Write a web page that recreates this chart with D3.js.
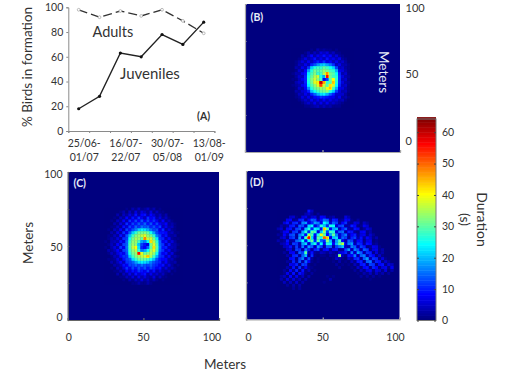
<!DOCTYPE html>
<html>
<head>
<meta charset="utf-8">
<script src="https://cdn.jsdelivr.net/npm/d3@7"></script>
<style>
body{margin:0;background:#fff;}
text{font-family:Lato,"Open Sans",sans-serif;fill:#333;}
</style>
</head>
<body>
<script>
// panel A
const periods=[0,1,2,3,4,5,6];
const juveniles=[18,28,63,60,78,70,88];
const adults=[98,92,97,93,98,89,79];
const dateTop=["25/06-","16/07-","30/07-","13/08-"];
const dateBot=["01/07","22/07","05/08","01/09"];
const datePeriod=[0,2,4,6];
const yTicksA=[0,20,40,60,80,100];

// colorbar
const barTicks=[0,10,20,30,40,50,60];
const jetValues=[0,8,24,40,56,64];
const jetColors=["#00007f","#0000ff","#00ffff","#ffff00","#ff0000","#7f0000"];

// heatmaps: seconds per 2m cell, rows from the top, only the part with birds
const startB={col:15,row:15};
const heatB=[
[0,0,0,0,0,0,1,0,3,1,2,1,1,0,1,0,0,0,0,0],
[0,0,0,0,1,3,1,4,2,6,4,6,2,4,1,1,0,0,0,0],
[0,0,0,3,1,4,8,3,7,5,9,5,8,3,6,2,1,0,0,0],
[0,0,1,3,6,3,5,9,4,7,4,9,5,7,4,7,2,1,0,0],
[0,1,3,6,3,7,4,7,10,7,11,6,8,4,7,3,5,2,0,0],
[0,1,4,3,7,4,10,13,17,20,21,18,15,11,4,7,3,3,1,0],
[0,3,2,7,4,11,21,26,28,27,30,28,25,21,12,4,5,2,1,0],
[0,1,5,3,8,18,26,31,29,30,33,31,28,27,19,7,6,3,1,0],
[1,3,3,7,9,23,28,32,27,28,35,47,31,29,24,10,3,5,1,0],
[0,2,5,4,10,25,30,35,37,25,18,56,31,28,26,11,6,3,2,0],
[1,1,4,7,10,26,32,37,33,28,7,12,31,40,27,11,4,5,1,0],
[0,3,5,4,10,25,31,38,41,60,46,27,29,44,26,11,6,3,2,0],
[1,2,3,7,9,23,29,33,38,52,37,29,42,37,24,10,4,5,1,0],
[0,1,5,3,8,17,26,30,32,34,33,39,44,29,19,7,6,3,1,0],
[0,3,2,5,6,10,20,25,28,30,31,33,27,21,12,6,3,4,1,0],
[0,1,4,3,7,4,10,14,19,22,23,19,14,10,5,5,5,2,0,0],
[0,1,2,6,3,7,4,8,9,11,10,9,7,7,4,7,2,3,1,0],
[0,0,1,3,5,3,7,4,7,4,8,4,7,4,5,3,4,1,0,0],
[0,0,0,1,3,5,3,7,3,7,3,7,3,5,3,2,1,0,0,0],
[0,0,0,0,1,1,2,3,4,2,4,2,3,1,1,1,0,0,0,0]
];
const startC={col:12,row:12};
const heatC=[
[0,0,0,0,0,0,0,1,0,3,1,4,1,2,4,1,3,0,1,0,0,0,0,0,0,0],
[0,0,0,0,0,1,3,0,4,1,6,2,6,4,2,6,1,4,1,1,0,0,0,0,0,0],
[0,0,0,0,3,0,4,2,6,3,9,3,8,9,3,8,5,2,4,1,3,0,0,0,0,0],
[0,0,0,1,0,4,2,8,3,9,5,11,7,4,11,7,9,3,6,2,4,1,0,0,0,0],
[0,0,1,0,4,2,8,3,11,7,12,8,13,8,12,8,11,7,3,8,2,4,1,0,0,0],
[0,0,0,3,1,6,3,11,6,12,9,13,10,14,9,13,8,12,7,5,8,2,3,1,0,0],
[0,0,1,1,4,2,9,5,12,9,14,11,15,13,14,10,13,9,12,4,7,3,4,1,0,0],
[0,1,0,4,2,8,3,12,9,13,16,21,23,22,19,15,12,13,6,11,3,6,2,1,0,0],
[0,0,3,1,6,3,11,7,14,21,27,31,31,32,30,25,18,12,9,9,8,3,4,1,1,0],
[0,1,1,4,2,9,5,13,20,28,32,34,36,38,33,31,27,16,12,6,9,3,2,3,0,0],
[0,1,3,2,6,3,11,12,25,31,35,34,30,48,36,37,31,23,11,10,4,8,2,1,1,0],
[1,0,3,4,3,9,6,14,27,33,34,28,18,16,24,42,35,27,14,7,9,3,6,2,0,0],
[0,1,4,2,8,4,12,14,29,34,33,20,12,9,6,32,38,29,14,11,4,9,3,3,1,0],
[1,0,3,6,3,11,7,15,29,36,40,22,10,8,14,30,42,30,15,9,10,4,4,3,0,0],
[0,3,2,4,8,4,12,14,28,33,36,26,15,18,24,34,38,29,14,11,5,8,2,3,1,0],
[0,1,4,2,6,9,7,13,26,31,33,56,38,30,32,36,33,25,12,7,9,3,6,1,0,0],
[0,0,1,4,3,8,11,11,21,28,32,34,36,38,44,34,28,19,11,10,4,8,2,3,1,0],
[0,1,1,2,6,3,9,12,14,22,27,30,31,30,28,25,20,13,9,8,8,3,4,1,0,0],
[0,0,3,1,4,8,4,11,12,14,18,22,23,22,20,16,13,11,10,4,8,3,2,3,0,0],
[0,0,0,3,2,4,9,7,12,12,14,12,15,13,12,14,11,10,7,9,3,6,2,0,1,0],
[0,0,1,0,4,2,6,11,7,12,9,13,10,13,9,12,10,7,9,3,6,2,3,1,0,0],
[0,0,0,1,1,4,2,8,5,9,7,11,9,7,11,5,9,3,6,3,2,4,0,1,0,0],
[0,0,0,0,3,0,4,2,7,3,9,5,7,9,3,7,3,5,2,4,1,0,1,0,0,0],
[0,0,0,0,0,1,1,4,2,6,2,7,3,6,3,2,6,1,4,1,1,0,0,0,0,0],
[0,0,0,0,0,0,1,0,3,1,4,2,6,2,4,1,3,1,0,1,0,0,0,0,0,0],
[0,0,0,0,0,0,0,0,0,1,1,3,1,1,3,1,0,0,0,0,0,0,0,0,0,0]
];
const startD={col:10,row:13};
const heatD=[
[0,0,0,0,0,0,0,0,0,0,9,4,0,0,0,0,0,0,0,0,0,0,0,0,0,0,0,0,0,0,0,0,0,0,0,0,0,0],
[0,0,0,0,0,0,0,0,0,3,5,2,0,2,0,0,0,0,0,0,0,0,0,0,0,0,0,0,0,0,0,0,0,0,0,0,0,0],
[0,0,0,0,4,5,1,0,6,7,2,5,6,1,8,7,1,2,3,0,0,0,6,3,0,0,0,0,0,0,0,0,0,0,0,0,0,0],
[0,0,0,7,8,1,2,10,11,2,8,14,13,3,9,15,14,3,10,9,1,2,8,7,1,0,2,0,0,0,0,0,0,0,0,0,0,0],
[0,0,6,9,2,10,11,3,16,18,5,10,18,16,7,24,20,6,14,12,2,8,11,2,1,6,5,0,4,2,0,0,0,0,0,0,0,0],
[0,3,1,2,9,10,2,14,13,4,22,24,6,12,26,20,10,26,24,5,12,13,2,3,10,8,1,1,7,5,0,0,0,0,0,0,0,0],
[3,5,0,8,9,2,12,13,4,20,26,10,24,22,8,44,30,8,18,20,3,10,14,3,2,9,8,0,2,6,4,0,0,0,0,0,0,0],
[0,2,7,8,1,11,12,3,18,27,10,30,28,6,20,34,12,28,26,6,14,15,2,10,9,2,1,7,8,1,3,0,0,0,0,0,0,0],
[2,1,8,3,12,13,2,16,20,8,36,28,8,26,40,30,8,18,30,16,5,12,16,3,8,10,2,6,7,1,5,2,0,0,0,0,0,0],
[0,4,6,1,10,12,2,18,6,30,56,22,6,30,24,50,44,6,20,22,6,14,12,2,10,12,3,9,2,8,5,1,3,0,0,0,0,0],
[3,1,2,9,2,3,14,16,24,8,24,30,10,30,14,10,32,20,4,18,28,8,3,14,12,2,8,9,1,6,7,0,1,0,0,0,0,0],
[0,3,4,8,1,12,11,3,18,22,4,20,26,8,24,8,26,24,8,20,30,36,6,16,18,3,11,10,2,9,8,1,2,0,0,0,0,0],
[0,0,4,5,9,2,12,3,16,4,18,14,2,18,12,2,14,14,2,12,16,20,4,3,16,14,3,12,10,1,2,7,6,1,0,0,0,0],
[0,0,0,5,6,1,12,11,2,16,10,2,10,12,1,8,9,2,8,9,1,2,12,18,3,16,13,2,14,12,1,6,7,1,3,0,0,0],
[0,0,2,0,7,8,1,14,12,30,3,9,2,1,4,3,1,4,2,1,6,7,10,2,16,3,18,14,2,11,10,1,6,1,3,0,0,0],
[0,0,0,3,1,10,11,2,14,20,1,11,1,0,1,1,0,2,1,3,34,3,1,9,8,16,2,14,16,3,10,8,1,5,1,0,0,0],
[0,0,0,0,8,9,1,12,16,3,13,2,0,1,0,0,1,0,1,5,3,1,0,5,2,10,11,1,14,18,3,11,10,1,6,1,0,0],
[0,0,0,2,1,10,2,13,2,14,8,1,0,1,0,0,0,0,1,0,3,0,1,0,4,1,9,10,1,14,15,2,10,9,1,5,2,0],
[0,0,0,0,7,6,10,1,12,11,1,0,1,0,0,0,0,0,0,2,0,1,0,1,0,4,1,9,10,1,12,11,1,8,9,1,6,4],
[0,0,0,3,1,9,1,11,2,8,2,1,0,0,0,0,0,0,0,0,2,0,0,0,1,0,5,1,8,9,1,10,8,1,6,7,1,7],
[0,0,2,0,8,2,10,1,9,1,4,0,1,0,0,0,0,0,0,0,0,0,0,0,0,2,0,4,1,6,7,1,6,5,1,6,0,3],
[0,0,1,7,1,9,0,9,6,1,0,2,0,0,0,0,0,0,0,0,0,0,0,0,0,0,1,0,3,1,4,0,4,1,3,0,2,0],
[0,2,4,0,8,1,7,1,4,0,3,0,0,0,0,0,1,0,1,0,0,0,0,0,0,0,0,2,0,2,0,2,0,1,0,0,0,0],
[0,3,0,6,1,6,1,4,0,3,0,0,0,0,0,0,0,3,0,0,0,0,0,0,0,0,0,0,0,0,1,0,0,0,0,0,0,0],
[0,0,4,0,4,0,5,0,3,0,0,0,0,0,0,1,0,0,0,0,0,0,0,0,0,0,0,0,0,0,0,0,0,0,0,0,0,0],
[0,0,0,2,0,3,0,3,0,0,0,0,0,0,0,0,0,0,0,0,0,0,0,0,0,0,0,0,0,0,0,0,0,0,0,0,0,0],
[0,0,0,0,0,2,0,2,0,0,0,0,0,0,0,0,0,0,0,0,0,0,0,0,0,0,0,0,0,0,0,0,0,0,0,0,0,0]
];
const meterTicks=[0,50,100];

const svg=d3.select("body").append("svg")
  .attr("width",512)
  .attr("height",381);

const jet=d3.scaleLinear().domain(jetValues).range(jetColors);
const grey=d3.scaleLinear().domain([0,64]).range(["#000","#fff"]);

// blur the values first, then colour them, so a soft edge stays on the colormap
const defs=svg.append("defs");
const soft=defs.append("filter").attr("id","soft")
  .attr("x","-5%").attr("y","-5%").attr("width","110%").attr("height","110%")
  .attr("color-interpolation-filters","sRGB");
soft.append("feGaussianBlur").attr("stdDeviation",0.7);
const ramp=d3.range(0,65).map(v=>d3.color(jet(v)));
const transfer=soft.append("feComponentTransfer");
["r","g","b"].forEach(ch=>{
  transfer.append("feFunc"+ch.toUpperCase()).attr("type","table")
    .attr("tableValues",ramp.map(c=>(c[ch]/255).toFixed(3)).join(" "));
});

// ---- panel A ----
const xA=d3.scalePoint().domain(periods).range([78.7,203.7]);
const xTicksA=d3.scaleLinear().domain([0,7]).range([68.3,214.4]);
const yA=d3.scaleLinear().domain([0,100]).range([131,7.3]);

const axA=svg.append("g");
axA.append("g").attr("transform","translate(68.3,0)")
  .call(d3.axisLeft(yA).tickValues(yTicksA).tickSize(2).tickPadding(3));
axA.append("g").attr("transform","translate(0,131)")
  .call(d3.axisBottom(xTicksA).tickValues(d3.range(8)).tickSize(2).tickFormat(""));
axA.selectAll("path,line").attr("stroke","#8a8a8a");
axA.selectAll("text").style("font-size","10.5px").style("font-family","Lato");

const lineA=d3.line().x((d,i)=>xA(periods[i])).y(d=>yA(d));
svg.append("path").datum(adults)
  .attr("d",lineA).attr("fill","none").attr("stroke","#333")
  .attr("stroke-width",1.3).attr("stroke-dasharray","9,4");
svg.append("g").selectAll("circle").data(adults).enter().append("circle")
  .attr("cx",(d,i)=>xA(periods[i])).attr("cy",d=>yA(d)).attr("r",1.4)
  .attr("fill","#fff").attr("stroke","#aaa").attr("stroke-width",0.8);
svg.append("path").datum(juveniles)
  .attr("d",lineA).attr("fill","none").attr("stroke","#222").attr("stroke-width",1.4);
svg.append("g").selectAll("circle").data(juveniles).enter().append("circle")
  .attr("cx",(d,i)=>xA(periods[i])).attr("cy",d=>yA(d)).attr("r",1.6)
  .attr("fill","#111");

svg.append("g").selectAll("text").data(datePeriod).enter().append("text")
  .attr("x",d=>xA(d)+5.5).attr("y",147).attr("text-anchor","middle")
  .style("font-size","10.5px").text((d,i)=>dateTop[i]);
svg.append("g").selectAll("text").data(datePeriod).enter().append("text")
  .attr("x",d=>xA(d)+5.5).attr("y",160.5).attr("text-anchor","middle")
  .style("font-size","10.5px").text((d,i)=>dateBot[i]);

svg.append("text").attr("x",92.5).attr("y",37).style("font-size","14.5px").text("Adults");
svg.append("text").attr("x",120).attr("y",79).style("font-size","15px").text("Juveniles");
svg.append("text").attr("x",197).attr("y",120).style("font-size","10.5px").style("font-weight","bold").text("(A)");
svg.append("text").attr("transform","translate(32,67) rotate(-90)").attr("text-anchor","middle")
  .style("font-size","13.5px").text("% Birds in formation");

// ---- heatmaps ----
function heatPanel(x0,x1,y0,y1,cells,start,tag,tagX,tagY,axisCol,xLabelShift){
  const x=d3.scaleLinear().domain([0,100]).range([x0,x1]);
  const y=d3.scaleLinear().domain([0,100]).range([y1,y0]);
  const p=svg.append("g");
  p.append("rect").attr("x",x0).attr("y",y0).attr("width",x1-x0).attr("height",y1-y0)
    .attr("fill",jet(0));
  const hg=p.append("g").attr("filter","url(#soft)");
  cells.forEach((row,j)=>{
    hg.selectAll(null).data(row).enter().append("rect")
      .attr("x",(d,i)=>x((start.col+i)*2))
      .attr("y",y(100-(start.row+j)*2))
      .attr("width",x(2)-x(0)+0.3)
      .attr("height",y(0)-y(2)+0.3)
      .attr("fill",d=>grey(d));
  });
  const ax=p.append("g");
  ax.append("g").attr("transform","translate("+x0+",0)")
    .call(d3.axisLeft(y).tickValues(d3.range(0,101,25)).tickSize(-1.5).tickFormat(""));
  ax.append("g").attr("transform","translate(0,"+y1+")")
    .call(d3.axisBottom(x).tickValues(meterTicks).tickSize(-2).tickFormat(""));
  ax.selectAll("path,line").attr("stroke",axisCol).attr("stroke-width",1.2);
  p.append("text").attr("x",tagX).attr("y",tagY).style("fill","#e8ecf8")
    .style("font-size","10.5px").style("font-weight","bold").text(tag);
  if(xLabelShift){
    p.selectAll(null).data(meterTicks).enter().append("text")
      .attr("x",(d,i)=>x(d)+xLabelShift[i]).attr("y",341).attr("text-anchor","middle")
      .style("font-size","10.5px").text(d=>d);
  }
  return y;
}

heatPanel(245,400,4,152,heatB,startB,"(B)",250.5,21,"#a8a8a8",null);
heatPanel(67.8,219,172,320,heatC,startC,"(C)",73.5,186.5,"#666",[1,0,-7]);
heatPanel(246,399.5,171,319.5,heatD,startD,"(D)",250,186,"#a8a8a8",[2.5,0,-4]);

// y labels of C
const labelC=[320.5,250.5,178];
svg.append("g").selectAll("text").data(meterTicks).enter().append("text")
  .attr("x",62.5).attr("y",(d,i)=>labelC[i])
  .attr("text-anchor","end").style("font-size","10.5px").text(d=>d);
// labels of B on its right side
const labelB=[144.5,78,11.5];
svg.append("g").selectAll("text").data(meterTicks).enter().append("text")
  .attr("x",405.5).attr("y",(d,i)=>labelB[i])
  .style("font-size","11px").text(d=>d);

svg.append("text").attr("transform","translate(379,72) rotate(90)").attr("text-anchor","middle")
  .style("font-size","13.5px").style("fill","#e8ecf8").text("Meters");
svg.append("text").attr("transform","translate(33,243) rotate(-90)").attr("text-anchor","middle")
  .style("font-size","13.5px").text("Meters");
svg.append("text").attr("x",225).attr("y",369).attr("text-anchor","middle")
  .style("font-size","13.5px").text("Meters");

// ---- colorbar ----
const yBar=d3.scaleLinear().domain([0,64.2]).range([320.5,119]);
svg.append("g").selectAll("rect").data(d3.range(0,64.2,0.8)).enter().append("rect")
  .attr("x",417).attr("y",d=>yBar(d+0.8)).attr("width",19).attr("height",3)
  .attr("fill",d=>jet(d));
svg.append("rect").attr("x",417).attr("y",119).attr("width",19).attr("height",201.5)
  .attr("fill","none").attr("stroke","#777");
const barR=svg.append("g").attr("transform","translate(436,0)")
  .call(d3.axisRight(yBar).tickValues(barTicks).tickSizeInner(-2).tickSizeOuter(0).tickPadding(6));
const barL=svg.append("g").attr("transform","translate(417,0)")
  .call(d3.axisLeft(yBar).tickValues(barTicks).tickSizeInner(-2).tickSizeOuter(0).tickFormat(""));
barR.selectAll("line").attr("stroke","#444");
barL.selectAll("line").attr("stroke","#444");
barR.selectAll("path").attr("stroke","none");
barL.selectAll("path").attr("stroke","none");
barR.selectAll("text").style("font-size","10.5px").style("font-family","Lato");

svg.append("text").attr("transform","translate(477,219.5) rotate(90)").attr("text-anchor","middle")
  .style("font-size","14px").text("Duration");
svg.append("text").attr("transform","translate(460,219.5) rotate(90)").attr("text-anchor","middle")
  .style("font-size","14px").text("(s)");
</script>
</body>
</html>
